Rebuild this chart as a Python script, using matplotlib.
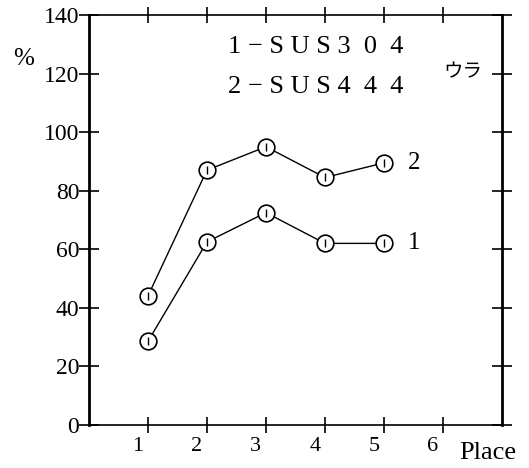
import matplotlib.pyplot as plt
import matplotlib.transforms as mtransforms

places = [1, 2, 3, 4, 5]
sus304 = [28.5, 62.5, 72.5, 62, 62]
sus444 = [44, 87, 95, 84.5, 89.5]
x_ticks = [1, 2, 3, 4, 5, 6]
y_ticks = [0, 20, 40, 60, 80, 100, 120, 140]

plt.rcParams['font.family'] = ['Liberation Serif', 'Noto Sans CJK JP']

fig = plt.figure(figsize=(5.29, 4.68), dpi=100)
ax = fig.add_axes([0.168, 0.092, 0.781, 0.876])

# courbes avec cercles ouverts
for serie in (sus444, sus304):
    ax.plot(places, serie, color="black", linewidth=1.0, marker="o",
            markersize=12, markerfacecolor="white", markeredgecolor="black",
            markeredgewidth=1.2, zorder=3)
    ax.plot(places, serie, linestyle="none", marker="|", markersize=6,
            color="black", markeredgewidth=1.0, zorder=4)

ax.set_xlim(0, 7)
ax.set_ylim(0, 140)
ax.set_xticks(x_ticks)
ax.set_yticks(y_ticks)
ax.set_yticklabels([str(v) for v in y_ticks], fontsize=17)
ax.set_xticklabels([str(v) for v in x_ticks], fontsize=16)
ax.tick_params(direction="inout", length=14, width=1.2, top=True, right=True,
               labelright=False, labeltop=False)
ax.tick_params(axis="y", pad=0)
ax.tick_params(axis="x", length=12, pad=3)

# decalage des labels de x vers la gauche
offset = mtransforms.ScaledTranslation(-10 / 100, 0, fig.dpi_scale_trans)
for lab in ax.get_xticklabels():
    lab.set_transform(lab.get_transform() + offset)

for s in ax.spines.values():
    s.set_linewidth(1.2)
ax.spines["left"].set_linewidth(2)
ax.spines["right"].set_linewidth(2)

fig.text(0.045, 0.874, "%", fontsize=18, ha="center", va="center")
ax.text(2.35, 129, "1 \u2212 S U S 3  0  4", fontsize=19, va="center")
ax.text(2.35, 115.5, "2 \u2212 S U S 4  4  4", fontsize=19, va="center")
ax.text(6.34, 120.5, "ウラ", fontsize=14, va="center", ha="center",
        family=['Noto Sans CJK JP'])
ax.text(5.4, 89.5, "2", fontsize=18, va="center")
ax.text(5.4, 62, "1", fontsize=18, va="center")
fig.text(0.922, 0.033, "Place", fontsize=19, ha="center", va="center")

plt.savefig("out.png", dpi=100)
